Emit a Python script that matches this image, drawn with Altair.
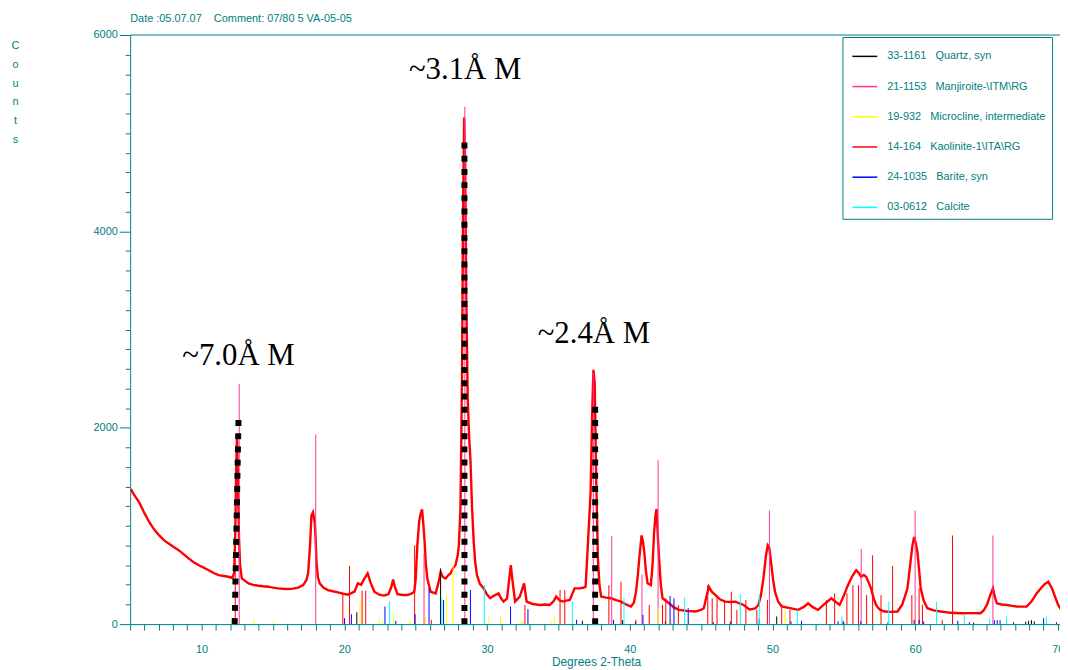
import altair as alt
import pandas as pd

TEAL = "#008080"

pat_x = [5.05, 5.3, 5.63, 6.0, 6.33, 6.7, 7.03, 7.4, 7.72, 8.05, 8.42, 8.8, 9.11, 9.45, 9.81,
         10.15, 10.5, 10.85, 11.2, 11.55, 11.9, 12.15, 12.28, 12.36, 12.42, 12.48, 12.55, 12.62,
         12.7, 12.82, 13.05, 13.29, 13.6, 13.98, 14.3, 14.68, 15.0, 15.38, 15.7, 16.07, 16.4,
         16.77, 17.12, 17.35, 17.47, 17.6, 17.7, 17.81, 17.93, 18.0, 18.05, 18.15, 18.28, 18.55,
         18.86, 19.2, 19.56, 19.9, 20.25, 20.5, 20.72, 20.95, 21.18, 21.4, 21.64, 21.85, 22.11,
         22.45, 22.8, 23.1, 23.3, 23.42, 23.55, 23.73, 24.1, 24.43, 24.7, 24.9, 25.0, 25.12,
         25.25, 25.35, 25.45, 25.55, 25.63, 25.72, 25.82, 26.05, 26.4, 26.6, 26.75, 26.9, 27.1,
         27.3, 27.44, 27.63, 27.79, 27.95, 28.03, 28.14, 28.25, 28.33, 28.4, 28.47, 28.55, 28.65,
         28.75, 28.84, 28.95, 29.07, 29.18, 29.3, 29.5, 29.77, 30.0, 30.23, 30.5, 30.81, 31.0,
         31.16, 31.4, 31.55, 31.67, 31.78, 31.97, 32.3, 32.6, 32.78, 33.2, 33.71, 34.05, 34.4,
         34.65, 34.85, 35.1, 35.33, 35.56, 35.8, 36.14, 36.49, 36.75, 36.91, 37.08, 37.26, 37.38,
         37.46, 37.55, 37.65, 37.77, 37.88, 38.0, 38.35, 38.7, 39.05, 39.39, 39.75, 40.09, 40.3,
         40.44, 40.57, 40.67, 40.83, 40.92, 41.02, 41.13, 41.25, 41.48, 41.6, 41.71, 41.8, 41.88,
         41.97, 42.06, 42.18, 42.3, 42.76, 43.1, 43.45, 44.0, 44.61, 45.0, 45.19, 45.35, 45.54,
         45.75, 46.01, 46.35, 46.7, 47.05, 47.4, 47.98, 48.4, 48.8, 49.02, 49.2, 49.37, 49.55,
         49.67, 49.78, 49.9, 50.05, 50.18, 50.4, 50.65, 51.23, 51.81, 52.2, 52.5, 52.85, 53.2,
         53.7, 54.13, 54.4, 54.71, 55.0, 55.29, 55.6, 55.87, 56.05, 56.22, 56.4, 56.57, 56.75,
         56.91, 57.1, 57.26, 57.5, 57.84, 58.3, 58.77, 59.1, 59.3, 59.46, 59.65, 59.81, 59.93,
         60.05, 60.16, 60.28, 60.39, 60.6, 60.86, 61.3, 61.79, 62.5, 63.18, 63.9, 64.57, 64.8,
         65.03, 65.25, 65.45, 65.6, 65.73, 66.05, 66.42, 66.8, 67.12, 67.5, 67.81, 68.15, 68.51,
         68.9, 69.1, 69.33, 69.6, 69.8, 70.02, 70.25]
pat_y = [1375, 1310, 1240, 1130, 1040, 960, 903, 850, 819, 785, 751, 705, 667, 630, 600,
         575, 549, 520, 499, 490, 482, 470, 520, 900, 1500, 1900, 1500, 900,
         600, 465, 440, 415, 400, 391, 385, 381, 372, 364, 360, 357, 362,
         371, 397, 450, 520, 800, 1105, 1139, 1038, 850, 637, 480, 415, 370,
         347, 335, 324, 310, 300, 315, 330, 415, 400, 460, 516, 420, 330,
         300, 290, 305, 380, 455, 380, 305, 296, 296, 310, 330, 450, 802,
         1050, 1122, 1170, 1000, 836, 600, 465, 330, 313, 420, 530, 480, 465,
         500, 516, 570, 600, 700, 802, 1173, 2500, 4300, 5160, 4700, 3300, 2300,
         1900, 1679, 1200, 836, 620, 499, 410, 364, 300, 263, 290, 313, 260,
         229, 260, 450, 600, 450, 229, 280, 415, 229, 205, 195, 200, 195,
         230, 280, 240, 229, 240, 246, 364, 364, 370, 381, 836, 1342, 2200,
         2590, 2450, 1500, 667, 400, 280, 270, 263, 245, 229, 200, 179, 220,
         330, 500, 667, 903, 850, 735, 550, 415, 397, 600, 937, 1100, 1173,
         900, 667, 400, 263, 212, 170, 145, 135, 128, 145, 162, 260, 381,
         330, 296, 250, 229, 225, 229, 195, 150, 160, 195, 300, 465, 700,
         802, 780, 634, 450, 330, 230, 179, 162, 145, 175, 212, 170, 145,
         210, 263, 230, 195, 290, 397, 490, 549, 520, 482, 500, 482, 420,
         364, 260, 195, 150, 128, 125, 128, 200, 290, 364, 600, 802, 887,
         820, 735, 550, 364, 240, 162, 140, 128, 115, 111, 112, 111, 140,
         195, 290, 364, 270, 212, 200, 195, 185, 179, 178, 179, 230, 313,
         380, 410, 432, 360, 280, 195, 145]

# ---- reference patterns (stick positions and heights) ----
phases = [
    "33-1161\u00a0\u00a0 Quartz, syn",
    "21-1153\u00a0\u00a0 Manjiroite-\\ITM\\RG",
    "19-932\u00a0\u00a0 Microcline, intermediate",
    "14-164\u00a0\u00a0 Kaolinite-1\\ITA\\RG",
    "24-1035\u00a0\u00a0 Barite, syn",
    "03-0612\u00a0\u00a0 Calcite",
]
phase_colors = ["#000000", "#FF3399", "#FFFF00", "#FF0000", "#0000FF", "#00FFFF"]

quartz_x = [20.88, 26.75, 36.68, 39.5, 40.4, 42.5, 45.85, 50.3, 55.0, 59.93, 64.1, 67.75, 67.95, 68.15, 68.35]
quartz_h = [121, 566, 34, 40, 20, 30, 20, 78, 20, 44, 15, 25, 34, 40, 28]

manj_x = [12.64, 18.0, 25.59, 28.45, 37.45, 38.74, 40.86, 41.99, 49.79, 56.22, 60.0, 65.45]
manj_h = [2447, 1931, 718, 5270, 2560, 897, 505, 1668, 1156, 768, 1156, 903]

micro_x = [13.69, 15.08, 21.11, 22.46, 22.69, 23.45, 24.6, 24.83, 25.7, 27.16, 27.63, 30.13,
           30.95, 32.4, 32.5, 34.5, 34.73, 41.99, 42.92, 44.2, 50.88]
micro_h = [44, 25, 263, 44, 34, 111, 34, 20, 78, 296, 600, 78, 78, 34, 30, 27, 78, 162, 44, 27, 135]

kaol_x = [12.36, 19.9, 20.37, 21.25, 21.5, 24.93, 26.1, 32.66, 35.12, 35.45, 38.54, 39.39, 40.44,
          41.37, 42.3, 42.53, 43.41, 45.47, 45.78, 46.12, 46.65, 47.12, 47.51, 48.14, 48.91, 49.65,
          50.65, 51.23, 53.78, 54.36, 55.22, 55.64, 56.03, 56.6, 57.02, 57.61, 58.42, 59.77, 60.28,
          60.51, 61.9, 62.62]
kaol_h = [1000, 320, 593, 340, 340, 802, 44, 195, 347, 347, 397, 431, 44,
          195, 195, 263, 195, 397, 263, 296, 229, 330, 145, 246, 145, 246,
          202, 145, 246, 313, 313, 397, 397, 296, 701, 296, 593, 296, 364,
          195, 44, 903]

barite_x = [20.02, 20.5, 22.85, 23.61, 24.96, 25.94, 26.96, 28.84, 31.65, 32.87, 36.28, 38.87,
            40.93, 42.83, 43.1, 44.1, 47.05, 49.07, 51.3, 52.04, 54.6, 54.94, 56.2, 58.1, 60.28,
            60.6, 62.99, 63.8, 65.55, 65.75, 65.95, 66.9, 69.0, 69.9]
barite_h = [61, 101, 179, 34, 101, 364, 246, 347, 179, 152, 44, 44,
            94, 287, 263, 162, 27, 54, 27, 34, 27, 34, 27, 20, 44,
            27, 34, 20, 40, 40, 40, 20, 60, 20]

calc_x = [23.18, 26.84, 29.81, 35.98, 39.6, 43.85, 47.75, 49.08, 51.75, 54.87, 58.15, 61.5, 63.45,
          65.22, 66.4, 69.2]
calc_h = [229, 263, 397, 229, 270, 270, 305, 305, 140, 78, 229, 229, 94, 50, 78, 78]

# ---- dotted marker lines and labels ----
mark_id = ["a", "a", "b", "b", "c", "c"]
mark_order = [0, 1, 0, 1, 0, 1]
mark_x = [12.32, 12.59, 28.42, 28.42, 37.58, 37.58]
mark_y = [0, 2090, 0, 4980, 0, 2265]

note_x = [12.59, 28.47, 37.49]
note_y = [2639, 5548, 2859]
note_text = ["~7.0\u00c5 M", "~3.1\u00c5 M", "~2.4\u00c5 M"]

header = "Date :05.07.07\u00a0\u00a0\u00a0\u00a0Comment: 07/80 5 VA-05-05"
x_title = "Degrees 2-Theta"
y_title = ["C", "o", "u", "n", "t", "s"]
x_ticks = list(range(5, 71))
y_ticks = list(range(0, 6001, 200))
X_MIN, X_MAX = 5, 70.15
Y_MIN, Y_MAX = 0, 6000

# ---- tables ----
pat_df = pd.DataFrame({"x": pat_x, "y": pat_y})
rows = []
for name, xs, hs in zip(phases,
                        [quartz_x, manj_x, micro_x, kaol_x, barite_x, calc_x],
                        [quartz_h, manj_h, micro_h, kaol_h, barite_h, calc_h]):
    for xv, hv in zip(xs, hs):
        rows.append({"x": xv, "y": hv, "phase": name})
stick_df = pd.DataFrame(rows)
mark_df = pd.DataFrame({"x": mark_x, "y": mark_y, "id": mark_id, "o": mark_order})
note_df = pd.DataFrame({"x": note_x, "y": note_y, "t": note_text})
one_df = pd.DataFrame({"k": [0]})

xscale = alt.Scale(domain=[X_MIN, X_MAX], nice=False, zero=False)
yscale = alt.Scale(domain=[Y_MIN, Y_MAX], nice=False)

xaxis = alt.Axis(
    values=x_ticks, title=x_title, grid=False, domain=True, ticks=True,
    labelExpr="datum.value % 10 === 0 ? datum.label : ''",
    format="d", labelFlush=False, labelOverlap=False, labelBound=False,
    tickSize=6, labelPadding=14, labelFontSize=11,
    titleX=424, titleY=42, titleAlign="left", titleBaseline="alphabetic",
    titleFontSize=12, titleFontWeight="normal",
    domainColor=TEAL, tickColor=TEAL, labelColor=TEAL, titleColor=TEAL,
)
yaxis = alt.Axis(
    values=y_ticks, title=y_title, grid=False, format="d", domain=True, ticks=True,
    labelExpr="datum.value % 2000 === 0 ? datum.label : ''",
    labelFlush=False, labelOverlap=False, labelBound=False,
    tickSize={"condition": {"test": "datum.value % 2000 === 0", "value": 11}, "value": 5},
    labelPadding=2, labelFontSize=11,
    titleAngle=0, titleX=-116, titleY=5, titleAlign="center", titleBaseline="top",
    titleLineHeight=18.8, titleFontSize=11, titleFontWeight="normal",
    domainColor=TEAL, tickColor=TEAL, labelColor=TEAL, titleColor=TEAL,
)

X = lambda f: alt.X(f, scale=xscale, axis=xaxis)
Y = lambda f: alt.Y(f, scale=yscale, axis=yaxis)

scan = alt.Chart(pat_df).mark_line(color="#FF0000", strokeWidth=2.4, clip=True).encode(
    x=X("x:Q"), y=Y("y:Q"),
)

sticks = alt.Chart(stick_df).mark_rule(strokeWidth=1, clip=True).encode(
    x=X("x:Q"),
    y=Y("y:Q"),
    y2=alt.Y2(datum=0),
    color=alt.Color(
        "phase:N",
        sort=phases,
        scale=alt.Scale(domain=phases, range=phase_colors),
        legend=alt.Legend(
            title=None, orient="none", legendX=717, legendY=2,
            symbolType="stroke", symbolSize=625, symbolStrokeWidth=1.5,
            labelFont="Liberation Sans", labelFontSize=11, labelColor=TEAL,
            strokeColor=TEAL, fillColor="white", padding=6, symbolOffset=3,
            labelOffset=9, rowPadding=11.4, labelLimit=400,
        ),
    ),
)

frame_top = alt.Chart(one_df).mark_rule(color=TEAL, strokeWidth=1).encode(
    x=alt.X(datum=X_MIN, scale=xscale, axis=xaxis),
    x2=alt.X2(datum=X_MAX),
    y=alt.Y(datum=Y_MAX, scale=yscale, axis=yaxis),
)

markers = alt.Chart(mark_df).mark_line(
    color="black", strokeWidth=6, strokeDash=[6, 7.3], strokeCap="butt"
).encode(
    x=X("x:Q"), y=Y("y:Q"), detail="id:N", order="o:Q"
)

notes = alt.Chart(note_df).mark_text(
    font="Liberation Serif", fontSize=31, align="center", baseline="alphabetic", color="black"
).encode(x=X("x:Q"), y=Y("y:Q"), text="t:N")

chart = alt.layer(scan, sticks, frame_top, markers, notes).properties(
    width=936, height=593,
    background="white",
    autosize=alt.AutoSizeParams(type="none"),
    padding={"left": 123, "top": 25, "right": 0, "bottom": 44},
    title=alt.TitleParams(
        text=header, anchor="start", frame="group", font="Liberation Sans",
        fontSize=11, fontWeight="normal", color=TEAL, offset=5,
    ),
).configure_view(stroke=None).configure_axis(
    domainColor=TEAL, tickColor=TEAL, labelColor=TEAL, titleColor=TEAL,
    labelFont="Liberation Sans", titleFont="Liberation Sans", domainWidth=1, tickWidth=1,
)

chart.save("out.html", embed_options={"renderer": "svg", "actions": False})
